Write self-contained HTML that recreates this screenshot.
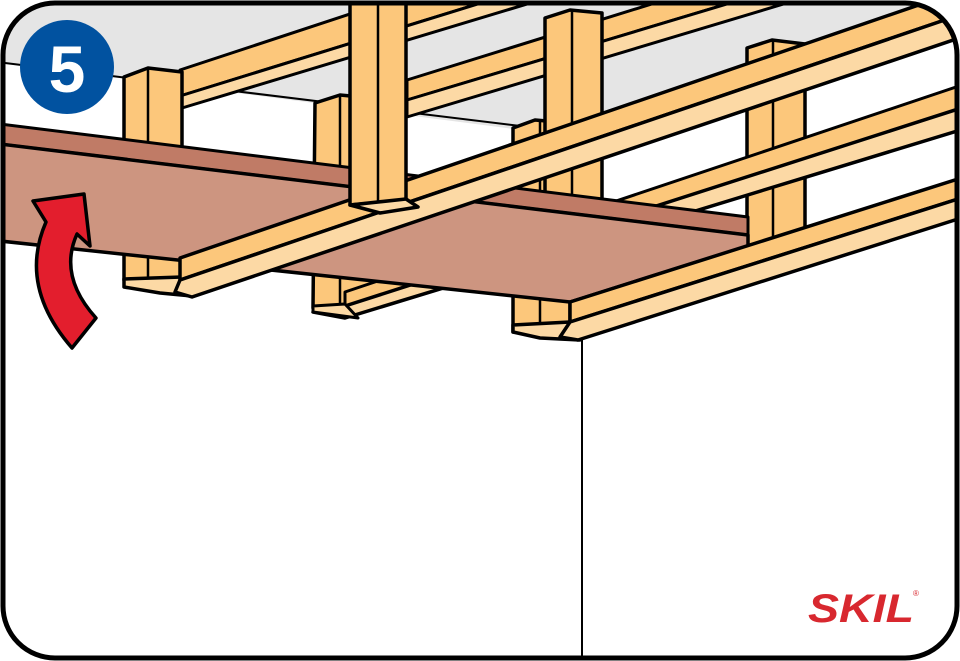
<!DOCTYPE html>
<html><head><meta charset="utf-8"><style>
html,body{margin:0;padding:0;background:#fff;}
svg{display:block;}
</style></head><body>
<svg width="960" height="661" viewBox="0 0 960 661" xmlns="http://www.w3.org/2000/svg">
<defs>
<clipPath id="fr"><rect x="3" y="3" width="954" height="655" rx="52" ry="52"/></clipPath>
</defs>
<rect width="960" height="661" fill="#fff"/>
<g clip-path="url(#fr)" stroke="#000" stroke-linejoin="round">
  <polygon points="0,0 960,0 960,0 913,7 545,133 5,63 0,63" fill="#e5e5e5" stroke="none"/>
  <line x1="5" y1="63" x2="545" y2="129" stroke-width="2"/>
  <polygon points="180,70 620,-75 620,-40 180,96" fill="#fcc77b" stroke-width="3"/>
  <polygon points="180,96 620,-40 620,-24 182,108" fill="#fcd9a5" stroke-width="3"/>
  <polygon points="407,80 980,-98 980,-72 407,100" fill="#fcc77b" stroke-width="3"/>
  <polygon points="407,100 980,-72 980,-55 407,117" fill="#fcd9a5" stroke-width="3"/>
  <g stroke-width="3.5">
    <polygon points="315,103 340,95 372,98 372,308 313,308" fill="#fcc77b"/>
    <line x1="340" y1="96" x2="340" y2="306" stroke-width="2.5"/>
    <polygon points="513,128 535,120 570,123 570,332 513,332" fill="#fcc77b"/>
    <line x1="540" y1="121" x2="540" y2="326" stroke-width="2.5"/>
    <polygon points="513,325 570,322 580,340 540,338 513,332" fill="#fcd9a5"/>
    <polygon points="124,77 148,68 182,72 182,280 124,280" fill="#fcc77b"/>
    <line x1="148" y1="69" x2="148" y2="279" stroke-width="2.5"/>
    <polygon points="124,279 182,277 192,296 160,293 124,287" fill="#fcd9a5"/>
    <polygon points="545,18 570,10 602,13 602,250 545,250" fill="#fcc77b"/>
    <line x1="572" y1="11" x2="572" y2="250" stroke-width="2.5"/>
    <polygon points="747,48 772,40 805,44 805,252 747,252" fill="#fcc77b"/>
    <line x1="773" y1="41" x2="773" y2="252" stroke-width="2.5"/>
    <polygon points="747,252 805,250 815,262 775,264 747,259" fill="#fcd9a5"/>
  </g>
  <!-- middle batten -->
  <polygon points="345,292 980,79 980,102 345,313" fill="#fcc77b" stroke-width="3"/>
  <polygon points="345,306 980,102 980,124 345,318 313,312" fill="#fcd9a5" stroke-width="3.5"/>
  <polygon points="313,306 345,304 358,318 313,312" fill="#fcd9a5" stroke-width="3"/>
  <!-- panel -->
  <polygon points="0,124 748,217 748,235 0,144" fill="#c07b66" stroke-width="3"/>
  <polygon points="0,144 748,235 748,246 570,302 0,241" fill="#cd9580" stroke-width="3.5"/>
  <polygon points="180,258 980,-16 980,8 180,280" fill="#fcc77b" stroke-width="3.5"/>
  <polygon points="180,280 980,8 980,31 192,297 175,292" fill="#fcd9a5" stroke-width="3.5"/>
  <g stroke-width="3.5">
    <polygon points="350,-5 406,-5 406,200 350,205" fill="#fcc77b"/>
    <line x1="378" y1="-5" x2="378" y2="202" stroke-width="2.5"/>
    <polygon points="350,205 406,199 418,207 380,213" fill="#fcd9a5"/>
  </g>
  <polygon points="570,302 980,172 980,192 570,322" fill="#fcc77b" stroke-width="3.5"/>
  <polygon points="570,322 980,192 980,212 578,340 560,337" fill="#fcd9a5" stroke-width="3.5"/>
  <line x1="582" y1="340" x2="582" y2="661" stroke-width="2"/>
  <path d="M72,348 Q18,286 46,222 L33,201 L84,194 L90,246 L77,234 Q58,276 96,318 Z" fill="#e31e2d" stroke-width="3.5"/>
</g>
<circle cx="67" cy="67" r="47" fill="#0152a0"/>
<text x="67" y="92" text-anchor="middle" font-family="Liberation Sans, sans-serif" font-weight="bold" font-size="66" fill="#fff">5</text>
<text x="808" y="622" font-family="Liberation Sans, sans-serif" font-weight="bold" font-style="italic" font-size="40" fill="#d8282f" textLength="106" lengthAdjust="spacingAndGlyphs">SKIL</text>
<text x="913" y="596" font-family="Liberation Sans, sans-serif" font-size="8" fill="#d8282f">®</text>
<rect x="3" y="3" width="954" height="655" rx="52" ry="52" fill="none" stroke="#000" stroke-width="5"/>
</svg>
</body></html>
